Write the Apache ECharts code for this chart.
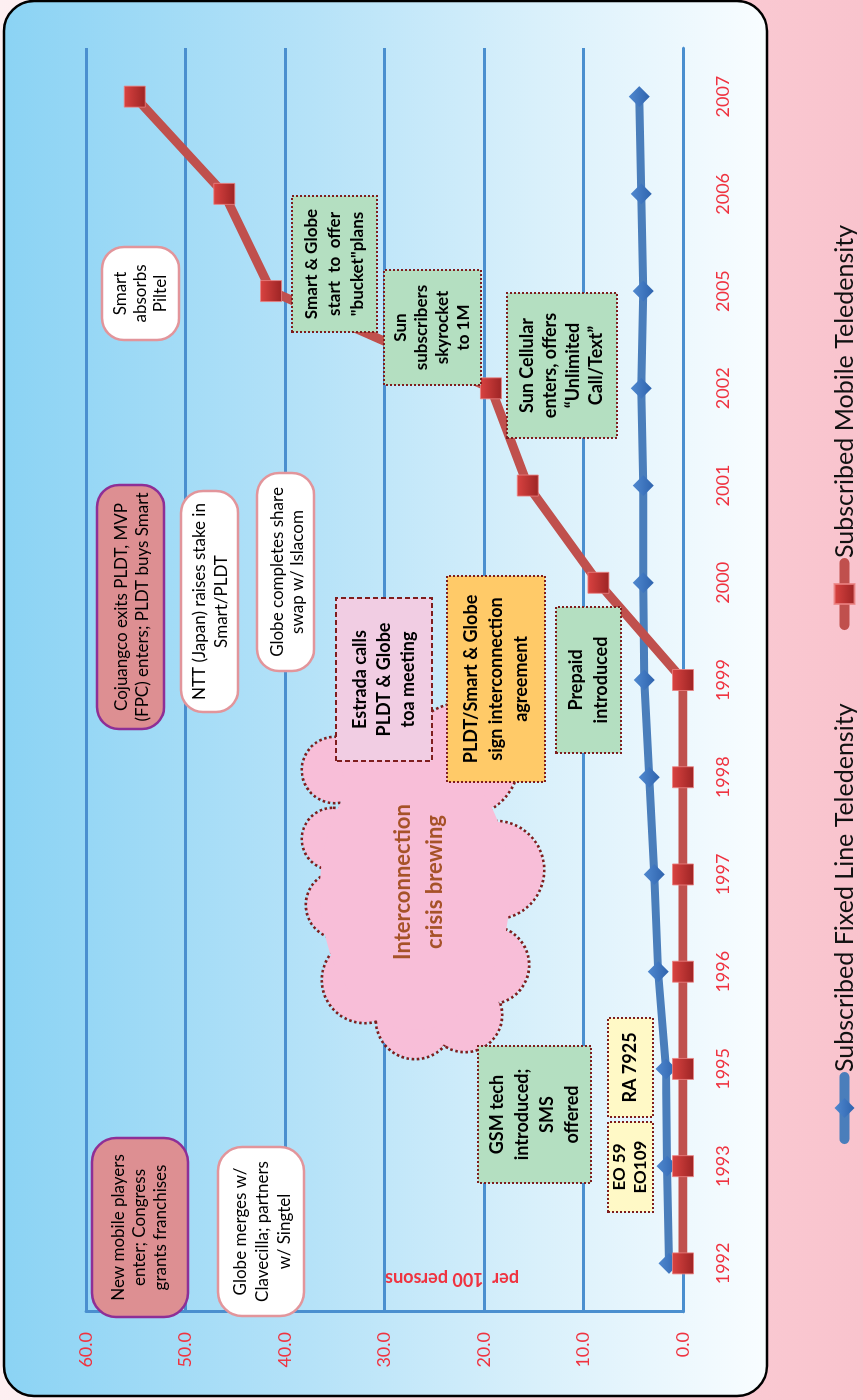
<!DOCTYPE html>
<html><head><meta charset="utf-8">
<script src="https://cdn.jsdelivr.net/npm/echarts@6/dist/echarts.min.js"></script>
<style>
html,body{margin:0;padding:0;width:863px;height:1400px;overflow:hidden;background:#f9c6cf}
#chart{position:absolute;left:0;top:0;width:1400px;height:863px;transform-origin:0 0;transform:translateY(1400px) rotate(-90deg);}
</style></head><body><div id="chart"></div>
<script>
// ---- data ----
const years = ['1992','1993','1995','1996','1997','1998','1999','2000','2001','2002','2005','2006','2007'];
const fixedLine = [1.4, 1.6, 1.7, 2.5, 2.9, 3.4, 3.9, 4.0, 4.0, 4.2, 4.0, 4.2, 4.4];
const mobile = [0, 0, 0, 0, 0, 0, 0, 8.5, 15.6, 19.3, 41.4, 46.1, 55.1];
const seriesNames = ['Subscribed Fixed Line Teledensity', 'Subscribed Mobile Teledensity'];
const axisTitle = 'per  100 persons';
const cloudText = ['Interconnection', 'crisis brewing'];

// ---- annotation layout (landscape coords, chart is rotated by CSS) ----
const SALMON = {fill:'#dd8f92', stroke:'#8e2f96', lineWidth:2.5};
const WHITE = {fill:'#ffffff', stroke:'#e2959b', lineWidth:2.5};
const GREEN = {fill:'#b4dfc1', stroke:'#7f1d1d', lineWidth:2, lineDash:[2,2]};
const YELLOW = {fill:'#fff9c6', stroke:'#7f1d1d', lineWidth:2, lineDash:[2,2]};
const ORANGE = {fill:'#ffca68', stroke:'#7f1d1d', lineWidth:2, lineDash:[2,2]};
const PINKB = {fill:'#f1cde3', stroke:'#7f1d1d', lineWidth:2, lineDash:[5,3]};
const notes = [
  {t:['New mobile players','enter; Congress','grants franchises'], b:[83,92,262,188], s:SALMON, r:24, fs:17, lh:21},
  {t:['Globe merges w/','Clavecilla; partners','w/ Singtel'], b:[84,218,253,304], s:WHITE, r:24, fs:17, lh:22, dy:2},
  {t:['GSM tech','introduced;','SMS','offered'], b:[217,478,354,591], s:GREEN, fs:18, lh:25, bold:1},
  {t:['EO 59','EO109'], b:[188,608,278,653], s:YELLOW, fs:17, lh:21, bold:1},
  {t:['RA 7925'], b:[283,608,382,653], s:YELLOW, fs:18, lh:22, bold:1},
  {t:['Estrada calls','PLDT & Globe','toa meeting'], b:[639,336,802,432], s:PINKB, fs:18, lh:24, bold:1},
  {t:['PLDT/Smart & Globe','sign interconnection','agreement'], b:[618,447,824,545], s:ORANGE, fs:18, lh:25, bold:1},
  {t:['Prepaid','introduced'], b:[647,556,793,621], s:GREEN, fs:18, lh:25, bold:1},
  {t:['Cojuangco exits PLDT, MVP','(FPC) enters; PLDT buys Smart'], b:[671,97,915,164], s:SALMON, r:22, fs:17, lh:21, dy:2},
  {t:['NTT (Japan) raises stake in','Smart/PLDT'], b:[688,181,909,238], s:WHITE, r:22, fs:17, lh:22, dy:1},
  {t:['Globe completes share','swap w/ Islacom'], b:[729,257,927,314], s:WHITE, r:22, fs:17, lh:20, dy:2},
  {t:['Smart','absorbs','Piltel'], b:[1060,102,1153,179], s:WHITE, r:22, fs:17, lh:20},
  {t:['Smart & Globe','start  to  offer','"bucket"plans'], b:[1068,292,1204,377], s:GREEN, fs:17, lh:23, bold:1},
  {t:['Sun','subscribers','skyrocket','to 1M'], b:[1015,384,1130,481], s:GREEN, fs:17, lh:21, bold:1},
  {t:['Sun Cellular','enters, offers','\u201cUnlimited','Call/Text\u201d'], b:[962,507,1107,617], s:GREEN, fs:18, lh:23, bold:1}
];
const cloudLobes = [[630,335,32],[561,333,30],[495,340,33],[420,365,42],[380,415,38],[385,465,36],[435,490,38],[530,495,48],[640,462,56],[640,380,40]];

const FONT = 'Lato';
const RED_TXT = '#ef3340';
const GRID_C = '#4a8fcf';

const graphics = [];
graphics.push({type:'rect', z:-20, silent:true, shape:{x:0,y:0,width:1400,height:863},
  style:{fill:new echarts.graphic.LinearGradient(0,0,0,1,[{offset:0,color:'#fdeff1'},{offset:1,color:'#f9c3cd'}])}});
graphics.push({type:'rect', z:-10, silent:true, shape:{x:4,y:4,width:1395,height:763,r:30},
  style:{fill:new echarts.graphic.LinearGradient(0,0,0,1,[{offset:0,color:'#8bd3f4'},{offset:0.4,color:'#b5e2f8'},{offset:0.7,color:'#d9f0fb'},{offset:1,color:'#f9fdff'}]),
  stroke:'#000', lineWidth:2.5}});
// cloud: outline layer then fill layer
cloudLobes.forEach(c => graphics.push({type:'circle', z:50, silent:true, shape:{cx:c[0],cy:c[1],r:c[2]},
  style:{fill:'#f8bed8', stroke:'#7f1d1d', lineWidth:5, lineDash:[2.5,2.5]}}));
cloudLobes.forEach(c => graphics.push({type:'circle', z:51, silent:true, shape:{cx:c[0],cy:c[1],r:c[2]},
  style:{fill:'#f8bed8'}}));
graphics.push({type:'ellipse', z:51, silent:true, shape:{cx:510,cy:415,rx:140,ry:95}, style:{fill:'#f8bed8'}});
graphics.push({type:'text', z:52, silent:true, x:518, y:419,
  style:{text:cloudText.join('\n'), align:'center', verticalAlign:'middle', fontSize:22, fontWeight:'bold', fontFamily:FONT, lineHeight:32, fill:'#a65228'}});
notes.forEach(n => {
  const [u1,v1,u2,v2] = n.b;
  graphics.push({type:'rect', z:60, silent:true, shape:{x:u1,y:v1,width:u2-u1,height:v2-v1,r:n.r||0}, style:Object.assign({}, n.s)});
  graphics.push({type:'text', z:61, silent:true, x:(u1+u2)/2, y:(v1+v2)/2 + (n.dy||0),
    style:{text:n.t.join('\n'), align:'center', verticalAlign:'middle', fontSize:n.fs, fontWeight:n.bold?'bold':'normal', fontFamily:FONT, lineHeight:n.lh, fill:'#000'}});
});
graphics.push({type:'text', z:30, silent:true, x:121, y:452, rotation:Math.PI/2,
  style:{text:axisTitle, align:'center', verticalAlign:'middle', fontSize:18, fontWeight:'bold', fontFamily:FONT, fill:RED_TXT}});

const legendBase = {top:832, padding:0, itemWidth:62, itemHeight:25, orient:'horizontal',
  lineStyle:{width:10, cap:'round'}, textStyle:{fontSize:25, fontFamily:FONT, color:'#111'}};

const chart = echarts.init(document.getElementById('chart'), null, {width:1400, height:863});
chart.setOption({
  animation:false,
  grid:{left:88, right:48, top:86, bottom:180, containLabel:false, outerBoundsMode:'none'},
  legend:[
    Object.assign({}, legendBase, {left:256, data:[seriesNames[0]]}),
    Object.assign({}, legendBase, {left:770, data:[seriesNames[1]]})
  ],
  xAxis:{type:'category', data:years, boundaryGap:true,
    axisLine:{show:true, lineStyle:{color:GRID_C, width:2.5}}, axisTick:{show:false},
    axisLabel:{interval:0, color:RED_TXT, fontSize:18, fontFamily:FONT, margin:31}, splitLine:{show:false}},
  yAxis:{type:'value', min:0, max:60, interval:10,
    axisLine:{show:true, lineStyle:{color:GRID_C, width:3}}, axisTick:{show:false},
    axisLabel:{color:RED_TXT, fontSize:18, fontFamily:FONT, margin:20, formatter:v=>v.toFixed(1)},
    splitLine:{show:true, lineStyle:{color:GRID_C, width:3}}},
  graphic:{elements:graphics},
  series:[
    {name:seriesNames[0], type:'line', data:fixedLine, symbol:'diamond', symbolSize:21, z:3,
      lineStyle:{color:'#4a7ebb', width:8, cap:'round'},
      itemStyle:{color:new echarts.graphic.LinearGradient(0,0,0,1,[{offset:0,color:'#4f88cf'},{offset:1,color:'#2f64ae'}])}},
    {name:seriesNames[1], type:'line', data:mobile, symbol:'rect', symbolSize:21, z:4,
      lineStyle:{color:'#c0504d', width:9, cap:'round'},
      itemStyle:{color:new echarts.graphic.LinearGradient(0,0,0,1,[{offset:0,color:'#da4341'},{offset:1,color:'#9c2424'}]), borderColor:'rgba(235,130,130,0.8)', borderWidth:1}}
  ]
});
</script></body></html>
